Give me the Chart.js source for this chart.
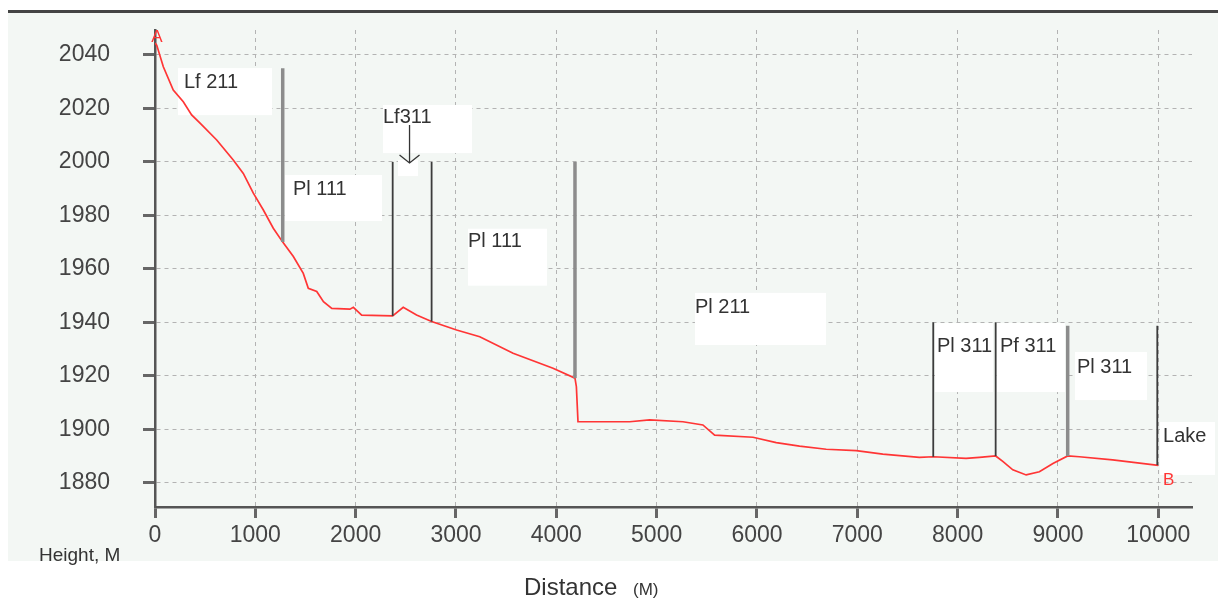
<!DOCTYPE html>
<html>
<head>
<meta charset="utf-8">
<script src="https://cdn.jsdelivr.net/npm/chart.js@4.4.1/dist/chart.umd.min.js"></script>
<style>
  html, body { margin: 0; padding: 0; background: #ffffff; }
  #wrap { width: 1218px; height: 600px; position: relative; }
</style>
</head>
<body>
<div id="wrap"><canvas id="c" width="1218" height="600"></canvas></div>
<script>
// ---- Profile (distance in m, height in m) ----
const profileDist = [0, 17, 83, 182, 282, 365, 449, 615, 780, 880, 980, 1080, 1179, 1273, 1379, 1478, 1528, 1612, 1679, 1762, 1943, 1977, 2060, 2369, 2474, 2607, 2757, 3006, 3237, 3569, 3967, 4186, 4200, 4216, 4731, 4930, 5262, 5461, 5578, 5960, 6192, 6424, 6690, 6989, 7254, 7619, 7757, 8084, 8217, 8379, 8450, 8550, 8683, 8815, 8950, 9097, 9213, 9545, 10000];
const profileHeight = [2044.5, 2043.7, 2035.6, 2026.9, 2022.5, 2017.6, 2014.5, 2008.2, 2000.7, 1995.7, 1988.3, 1982.0, 1975.2, 1970.0, 1964.6, 1958.3, 1952.7, 1951.5, 1947.7, 1945.2, 1944.9, 1945.6, 1942.7, 1942.4, 1945.6, 1942.7, 1940.3, 1937.1, 1934.6, 1928.4, 1922.8, 1919.1, 1915.9, 1902.8, 1902.8, 1903.5, 1902.8, 1901.6, 1897.8, 1897.0, 1895.0, 1893.7, 1892.5, 1892.0, 1890.7, 1889.5, 1889.7, 1889.1, 1889.5, 1890.0, 1888.0, 1884.8, 1882.9, 1884.1, 1887.2, 1890.0, 1889.7, 1888.5, 1886.5];

// ---- Unit boundaries ----
const boundaryDist = [1273, 2369, 2757, 4186, 7757, 8379, 9097, 9990];
const boundaryTop  = [2035, 2000, 2000, 2000, 1940, 1940, 1938.7, 1938.7];
const boundaryBase = [1970.0, 1942.4, 1940.3, 1919.1, 1889.7, 1890.0, 1890.0, 1886.6];
const boundaryKind = ['grey', 'dark', 'dark', 'grey', 'dark', 'dark', 'grey', 'dark'];

// ---- Unit labels (text, left x, baseline y in data units) ----
const labelText = ['Lf 211', 'Pl 111', 'Lf311', 'Pl 111', 'Pl 211', 'Pl 311', 'Pf 311', 'Pl 311', 'Lake'];
const labelX = [289, 1375, 2272, 3120, 5382, 7794, 8422, 9190, 10047];
const labelY = [2027.7, 1987.6, 2014.6, 1968.2, 1943.5, 1928.9, 1928.9, 1921.0, 1895.2];

// ---- White label boxes (data units) ----
const boxX0 = [229, 1296, 2272, 2422, 3120, 5382, 7774, 8392, 9170, 10017];
const boxX1 = [1166, 2263, 3160, 2622, 3907, 6688, 8352, 9070, 9887, 10565];
const boxTop = [2035.1, 1995.1, 2021.3, 2000.7, 1975.0, 1951.0, 1939.7, 1939.7, 1928.9, 1902.7];
const boxBottom = [2017.5, 1977.9, 2003.3, 1994.7, 1953.7, 1931.5, 1913.9, 1913.9, 1910.9, 1882.9];

// ---- Arrow for Lf311 ----
const arrowX = 2537;
const arrowFrom = 2013.8;
const arrowTo = 1999.6;

// ---- End points ----
const endText = ['A', 'B'];
const endX = [0, 10047];
const endY = [2044.9, 1879.1];

// ---- Axis ticks ----
const xTicks = [0, 1000, 2000, 3000, 4000, 5000, 6000, 7000, 8000, 9000, 10000];
const yTicks = [1880, 1900, 1920, 1940, 1960, 1980, 2000, 2020, 2040];
const xMin = 0, xMax = 10336;
const yMin = 1870.9, yMax = 2049.35;

const FONT = '"Liberation Sans", Arial, sans-serif';

const datasets = [{
  label: 'profile',
  data: profileDist.map((d, i) => ({x: d, y: profileHeight[i]})),
  borderColor: '#ff3535',
  borderWidth: 1.7,
  pointRadius: 0,
  tension: 0,
  showLine: true,
  order: 2
}];
boundaryDist.forEach((d, i) => {
  const grey = boundaryKind[i] === 'grey';
  datasets.push({
    label: 'b' + i,
    data: [{x: d, y: boundaryBase[i]}, {x: d, y: boundaryTop[i]}],
    borderColor: grey ? '#8c8c8c' : '#3c3c3c',
    borderWidth: grey ? 3.5 : 1.8,
    pointRadius: 0,
    showLine: true,
    order: 1
  });
});

function zeroPad(s) { s.paddingTop = 0; s.paddingBottom = 0; s.paddingLeft = 0; s.paddingRight = 0; }

const decor = {
  id: 'decor',
  beforeDraw(chart) {
    const ctx = chart.ctx;
    ctx.save();
    ctx.fillStyle = '#ffffff';
    ctx.fillRect(0, 0, chart.width, chart.height);
    ctx.fillStyle = '#f3f7f4';
    ctx.fillRect(8, 13, chart.width - 8, 548);
    ctx.strokeStyle = '#444';
    ctx.lineWidth = 3;
    ctx.beginPath();
    ctx.moveTo(8, 11.5);
    ctx.lineTo(chart.width, 11.5);
    ctx.stroke();
    ctx.restore();
  },
  beforeDatasetsDraw(chart) {
    const ctx = chart.ctx, xs = chart.scales.x, ys = chart.scales.y;
    ctx.save();
    ctx.fillStyle = '#ffffff';
    for (let i = 0; i < boxX0.length; i++) {
      const x0 = xs.getPixelForValue(boxX0[i]), x1 = xs.getPixelForValue(boxX1[i]);
      const y0 = ys.getPixelForValue(boxTop[i]), y1 = ys.getPixelForValue(boxBottom[i]);
      ctx.fillRect(x0, y0, x1 - x0, y1 - y0);
    }
    ctx.fillStyle = '#333';
    ctx.font = '20px ' + FONT;
    ctx.textAlign = 'left';
    ctx.textBaseline = 'alphabetic';
    labelText.forEach((t, i) => {
      ctx.fillText(t, xs.getPixelForValue(labelX[i]), ys.getPixelForValue(labelY[i]));
    });
    // arrow
    const ax = xs.getPixelForValue(arrowX);
    const ay0 = ys.getPixelForValue(arrowFrom), ay1 = ys.getPixelForValue(arrowTo);
    ctx.strokeStyle = '#333';
    ctx.lineWidth = 1.3;
    ctx.beginPath();
    ctx.moveTo(ax, ay0); ctx.lineTo(ax, ay1);
    ctx.moveTo(ax - 10, ay1 - 8); ctx.lineTo(ax, ay1); ctx.lineTo(ax + 10, ay1 - 8);
    ctx.stroke();
    ctx.restore();
  },
  afterDraw(chart) {
    const ctx = chart.ctx, xs = chart.scales.x, ys = chart.scales.y;
    ctx.save();
    ctx.fillStyle = '#ff3535';
    ctx.font = '17px ' + FONT;
    ctx.textBaseline = 'alphabetic';
    ctx.textAlign = 'center';
    ctx.fillText(endText[0], xs.getPixelForValue(endX[0]) + 2, ys.getPixelForValue(endY[0]));
    ctx.textAlign = 'left';
    ctx.fillText(endText[1], xs.getPixelForValue(endX[1]), ys.getPixelForValue(endY[1]));
    ctx.fillStyle = '#333';
    ctx.font = '19px ' + FONT;
    ctx.fillText('Height, M', 39, 561);
    ctx.font = '24px ' + FONT;
    ctx.fillText('Distance', 524, 595);
    ctx.font = '17px ' + FONT;
    ctx.fillText('(M)', 633, 595);
    ctx.restore();
  }
};

new Chart(document.getElementById('c'), {
  type: 'scatter',
  data: { datasets },
  options: {
    responsive: false,
    animation: false,
    events: [],
    layout: { padding: { top: 30, right: 26, left: 0, bottom: 0 } },
    plugins: { legend: { display: false }, tooltip: { enabled: false } },
    scales: {
      x: {
        type: 'linear', min: xMin, max: xMax,
        afterBuildTicks(s) { s.ticks = xTicks.map(v => ({ value: v })); },
        afterFit(s) { s.height = 93; zeroPad(s); },
        ticks: { autoSkip: false, maxRotation: 0, minRotation: 0, callback: v => String(v),
                 color: '#444', font: { family: FONT, size: 23 }, padding: 4 },
        grid: { color: '#b3b3b3', lineWidth: 1, tickLength: 11, tickColor: '#666', tickWidth: 3, tickBorderDash: [] },
        border: { display: true, color: '#555', width: 2.5, dash: [4, 4] }
      },
      y: {
        type: 'linear', min: yMin, max: yMax,
        afterBuildTicks(s) { s.ticks = yTicks.map(v => ({ value: v })); },
        afterFit(s) { s.width = 155; zeroPad(s); },
        ticks: { autoSkip: false, callback: v => String(v),
                 color: '#444', font: { family: FONT, size: 23 }, padding: 33 },
        grid: { color: '#b3b3b3', lineWidth: 1, tickLength: 12, tickColor: '#666', tickWidth: 3, tickBorderDash: [] },
        border: { display: true, color: '#555', width: 2.5, dash: [4, 4] }
      }
    }
  },
  plugins: [decor]
});
</script>
</body>
</html>
